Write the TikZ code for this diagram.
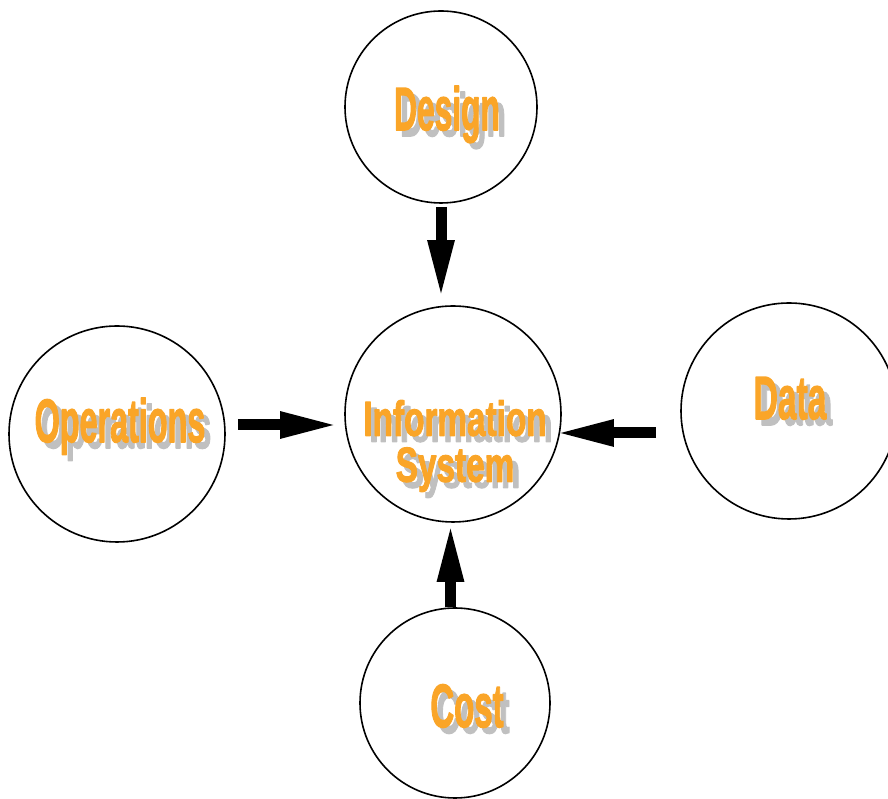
\documentclass[tikz,border=0pt]{standalone}
\usepackage{fontspec}
\usepackage{graphicx}
\usetikzlibrary{arrows.meta}
\newfontfamily\artfont[BoldFeatures={FakeBold=2.5}]{Liberation Sans}
\definecolor{artfill}{RGB}{250,165,40}
\definecolor{artshadow}{RGB}{192,192,192}
% word with a grey drop shadow, squeezed sideways
\newcommand\artword[2]{\rlap{\kern6pt\raisebox{-6pt}{\scalebox{#1}[1]{\color{artshadow}#2}}}\scalebox{#1}[1]{\color{artfill}#2}}
\begin{document}
\begin{tikzpicture}[x=1pt, y=1pt, line join=round,
	topic/.style={draw, circle, line width=1.6pt, inner sep=0pt},
	word/.style={inner sep=0pt, anchor=base, font=\artfont\bfseries\fontsize{61}{61}\selectfont},
	bigarrow/.style={line width=11pt, -{Triangle[width=24pt,length=59pt]}}]
	\useasboundingbox (0,0) rectangle (888,799);
	\node[topic, minimum size=192pt] (design) at (441,692) {};
	\node[topic, minimum size=216pt] (info) at (453,385) {};
	\node[topic, minimum size=216pt] (ops) at (117,365) {};
	\node[topic, minimum size=216pt] (data) at (789,388) {};
	\node[topic, minimum size=190pt] (cost) at (455,96) {};
	\node[word] (designtxt) at (447,669) {\artword{0.52}{Design}};
	\node[word] (opstxt) at (120,357) {\artword{0.53}{Operations}};
	\node[word] (datatxt) at (790,380) {\artword{0.55}{Data}};
	\node[word] (costtxt) at (467,72) {\artword{0.54}{Cost}};
	\node[inner sep=0pt, align=center, font=\artfont\bfseries\fontsize{49}{46}\selectfont] (infotxt) at (455,350)
		{\artword{0.68}{Information}\\\artword{0.68}{System}};
	% arrows into the centre
	\draw[bigarrow, shorten <=3pt, shorten >=6pt] (design.south) -- (design.south |- info.north);
	\draw[bigarrow, shorten <=12pt, shorten >=5pt] ([yshift=9pt]ops.east) -- ([yshift=9pt]ops.east -| info.west);
	\draw[bigarrow, shorten <=24pt, shorten >=-7pt] ([yshift=-22pt]data.west) -- ([yshift=-22pt]data.west -| info.east);
	\draw[bigarrow, shorten <=0pt, shorten >=0pt] ([xshift=-4.5pt]cost.north) -- ([xshift=-4.5pt]cost.north |- info.south);
\end{tikzpicture}
\end{document}
